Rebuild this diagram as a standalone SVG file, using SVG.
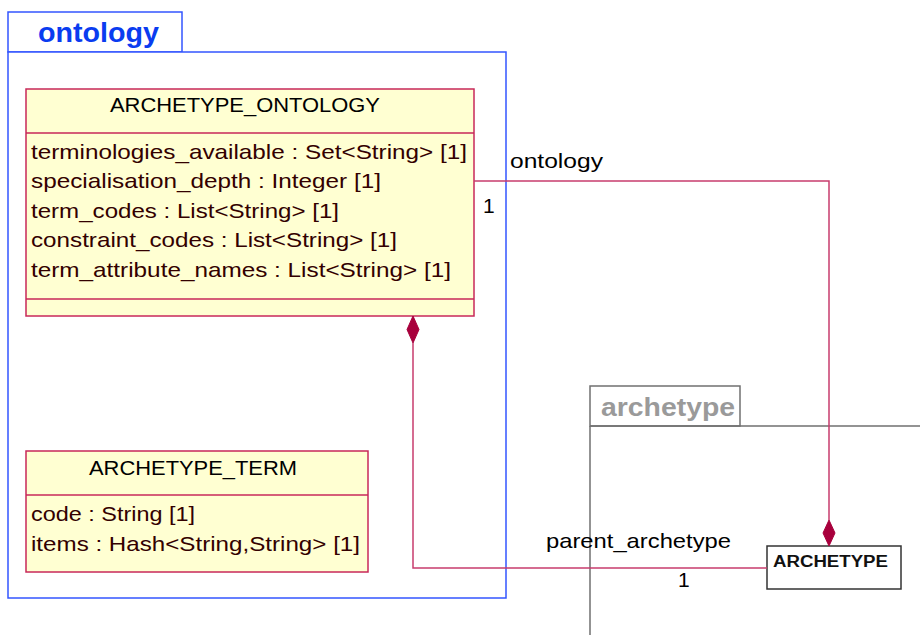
<svg xmlns="http://www.w3.org/2000/svg" width="920" height="635" viewBox="0 0 920 635">
<style>
.pkg{fill:#fff;stroke:#3355ff;stroke-width:1.5}
.pkg2{fill:none;stroke:#707070;stroke-width:1.5}
.cls{fill:#ffffd2;stroke:#c8285a;stroke-width:1.5}
.t{font-family:"Liberation Sans",Arial,sans-serif;font-size:21px;fill:#000}
.a{font-family:"Liberation Sans",Arial,sans-serif;font-size:21px;fill:#330000}
.conn{fill:none;stroke:#c83c6e;stroke-width:1.5}
.dia{fill:#a8003c;stroke:#a8003c}
</style>
<g id="pkg-ontology">
<rect class="pkg" x="8" y="12" width="174" height="40"/>
<rect class="pkg" x="8" y="52" width="498" height="546"/>
<text x="38" y="42" textLength="121" lengthAdjust="spacingAndGlyphs" style="font-family:'Liberation Sans',Arial,sans-serif;font-size:27px;font-weight:bold;fill:#0a3cf0">ontology</text>
</g>
<g id="pkg-archetype">
<rect class="pkg2" x="590" y="386" width="150" height="40"/>
<path class="pkg2" d="M590 426H920M590 426V635"/>
<text x="601" y="416" textLength="134" lengthAdjust="spacingAndGlyphs" style="font-family:'Liberation Sans',Arial,sans-serif;font-size:26px;font-weight:bold;fill:#9a9a9a">archetype</text>
</g>
<g id="ARCHETYPE_ONTOLOGY">
<rect class="cls" x="26" y="89" width="448" height="227"/>
<path class="cls" d="M26 133H474M26 299H474"/>
<text class="t" x="110" y="112" textLength="270" lengthAdjust="spacingAndGlyphs">ARCHETYPE_ONTOLOGY</text>
<text class="a" x="31" y="159" textLength="436" lengthAdjust="spacingAndGlyphs">terminologies_available : Set&lt;String&gt; [1]</text>
<text class="a" x="31" y="188" textLength="350" lengthAdjust="spacingAndGlyphs">specialisation_depth : Integer [1]</text>
<text class="a" x="31" y="218" textLength="308" lengthAdjust="spacingAndGlyphs">term_codes : List&lt;String&gt; [1]</text>
<text class="a" x="31" y="247" textLength="366" lengthAdjust="spacingAndGlyphs">constraint_codes : List&lt;String&gt; [1]</text>
<text class="a" x="31" y="277" textLength="420" lengthAdjust="spacingAndGlyphs">term_attribute_names : List&lt;String&gt; [1]</text>
</g>
<g id="ARCHETYPE_TERM">
<rect class="cls" x="26" y="451" width="342" height="121"/>
<path class="cls" d="M26 495H368"/>
<text class="t" x="89" y="475" textLength="208" lengthAdjust="spacingAndGlyphs">ARCHETYPE_TERM</text>
<text class="a" x="31" y="521" textLength="164" lengthAdjust="spacingAndGlyphs">code : String [1]</text>
<text class="a" x="31" y="551" textLength="329" lengthAdjust="spacingAndGlyphs">items : Hash&lt;String,String&gt; [1]</text>
</g>
<g id="ARCHETYPE">
<rect x="767" y="546" width="134" height="43" fill="#fff" stroke="#333" stroke-width="1.5"/>
<text x="773" y="567" textLength="115" lengthAdjust="spacingAndGlyphs" style="font-family:'Liberation Sans',Arial,sans-serif;font-size:16px;font-weight:bold;fill:#111">ARCHETYPE</text>
</g>
<g id="connectors">
<path class="conn" d="M474 181H829V520"/>
<path class="dia" d="M829 520L835 533L829 546L823 533Z"/>
<path class="conn" d="M413 343V568H767"/>
<path class="dia" d="M413 316L419 329.5L413 343L407 329.5Z"/>
<text class="t" x="510" y="168" textLength="93" lengthAdjust="spacingAndGlyphs">ontology</text>
<text class="t" x="483" y="213">1</text>
<text class="t" x="546" y="548" textLength="185" lengthAdjust="spacingAndGlyphs">parent_archetype</text>
<text class="t" x="678" y="587">1</text>
</g>
</svg>
